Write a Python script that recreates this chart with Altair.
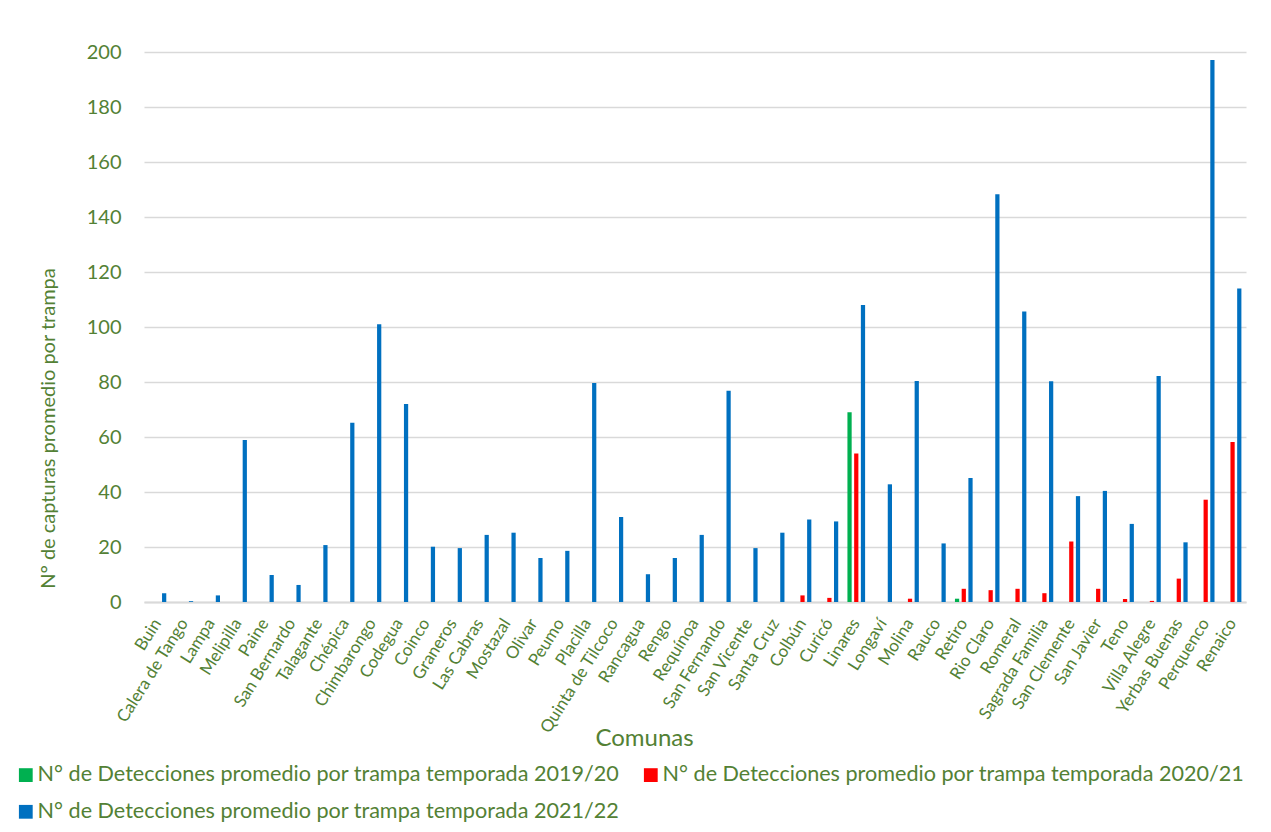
import altair as alt
import pandas as pd

comunas = ["Buin", "Calera de Tango", "Lampa", "Melipilla", "Paine", "San Bernardo",
           "Talagante", "Chépica", "Chimbarongo", "Codegua", "Coinco", "Graneros",
           "Las Cabras", "Mostazal", "Olivar", "Peumo", "Placilla", "Quinta de Tilcoco",
           "Rancagua", "Rengo", "Requínoa", "San Fernando", "San Vicente", "Santa Cruz",
           "Colbún", "Curicó", "Linares", "Longaví", "Molina", "Rauco", "Retiro",
           "Rio Claro", "Romeral", "Sagrada Familia", "San Clemente", "San Javier",
           "Teno", "Villa Alegre", "Yerbas Buenas", "Perquenco", "Renaico"]

series = ["N° de Detecciones promedio por trampa temporada 2019/20",
          "N° de Detecciones promedio por trampa temporada 2020/21",
          "N° de Detecciones promedio por trampa temporada 2021/22"]
colors = ["#00b050", "#ff0000", "#0070c0"]

v_2019_20 = {"Linares": 69.0, "Retiro": 1.2}

v_2020_21 = {"Colbún": 2.4, "Curicó": 1.5, "Linares": 54.0, "Molina": 1.2, "Retiro": 4.8,
             "Rio Claro": 4.3, "Romeral": 4.8, "Sagrada Familia": 3.2, "San Clemente": 22.0,
             "San Javier": 4.8, "Teno": 1.1, "Villa Alegre": 0.4, "Yerbas Buenas": 8.5,
             "Perquenco": 37.2, "Renaico": 58.2}

v_2021_22 = [3.2, 0.3, 2.4, 58.9, 9.8, 6.2, 20.7, 65.2, 101.0, 72.0, 20.1, 19.6, 24.4,
             25.2, 16.0, 18.6, 79.6, 30.9, 10.1, 16.0, 24.4, 76.8, 19.6, 25.2, 30.0, 29.3,
             108.0, 42.8, 80.4, 21.3, 45.1, 148.3, 105.6, 80.3, 38.5, 40.4, 28.4, 82.2,
             21.7, 197.1, 114.0]

rows = []
for c, v in v_2019_20.items():
    rows.append({"comuna": c, "serie": series[0], "valor": v})
for c, v in v_2020_21.items():
    rows.append({"comuna": c, "serie": series[1], "valor": v})
for c, v in zip(comunas, v_2021_22):
    rows.append({"comuna": c, "serie": series[2], "valor": v})
df = pd.DataFrame(rows)

GREEN = "#538135"
FONT = "Lato"

# legend fills column by column: order so that row 1 = 2019/20, 2020/21; row 2 = 2021/22
legend_order = [series[0], series[2], series[1]]
legend_colors = [colors[0], colors[2], colors[1]]

chart = alt.Chart(df).mark_bar().encode(
    x=alt.X("comuna:N", sort=comunas,
            scale=alt.Scale(domain=comunas, paddingInner=0.25, paddingOuter=0.125),
            axis=alt.Axis(title="Comunas", labelAngle=-58, labelAlign="right",
                          labelBaseline="middle", labelFontSize=17, labelColor=GREEN,
                          labelFont=FONT, labelPadding=18, ticks=False, tickSize=0,
                          domainColor="#d9d9d9", domainWidth=2, grid=False,
                          titleFont=FONT, titleFontSize=24, titleFontWeight="normal",
                          titleColor=GREEN, titleX=500, titleY=136,
                          titleBaseline="middle", titleAlign="center",
                          labelOverlap=False)),
    xOffset=alt.XOffset("serie:N", scale=alt.Scale(domain=series, paddingInner=0.37,
                                                    paddingOuter=0.185)),
    y=alt.Y("valor:Q", scale=alt.Scale(domain=[0, 200], nice=False),
            axis=alt.Axis(title="N° de capturas promedio por trampa",
                          values=list(range(0, 201, 20)), labelFontSize=20,
                          labelColor=GREEN, labelFont=FONT, labelPadding=23,
                          ticks=False, domain=False, gridColor="#d9d9d9",
                          gridWidth=1.3, titleFont=FONT, titleFontSize=20,
                          titleFontWeight="normal", titleColor=GREEN, titleAngle=-90,
                          titleX=-96, titleY=376, titleBaseline="middle",
                          titleAlign="center")),
    color=alt.Color("serie:N", scale=alt.Scale(domain=legend_order, range=legend_colors),
                    legend=alt.Legend(title=None, orient="none", legendX=-129,
                                      legendY=712, columns=2, columnPadding=20,
                                      rowPadding=14, symbolType="square",
                                      symbolSize=190, symbolStrokeWidth=0,
                                      labelFont=FONT, labelFontSize=21.6,
                                      labelColor=GREEN, labelOffset=1,
                                      labelLimit=1000, padding=0)),
).properties(
    width=1102, height=550,
    autosize=alt.AutoSizeParams(type="none"),
    padding={"left": 136, "top": 44, "right": 17, "bottom": 222},
).configure_view(stroke=None)

chart.save("out.html", embed_options={"renderer": "svg", "actions": False})
